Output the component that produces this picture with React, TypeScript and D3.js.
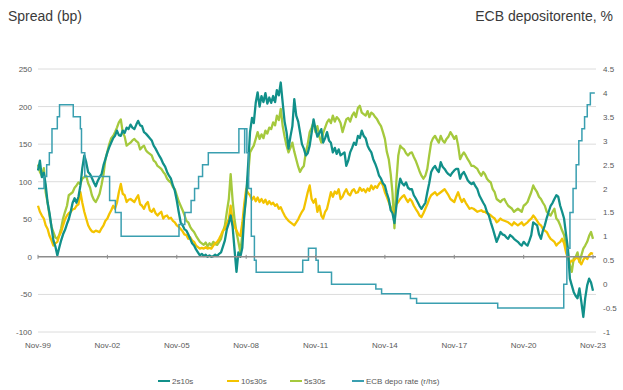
import React from "react";
import * as d3 from "d3";

const W = 623;
const H = 390;

// Monthly observations, Nov 1999 .. Nov 2023 (bp)
const months: Date[] = d3.timeMonth.range(new Date(1999, 10, 1), new Date(2023, 11, 1));

const spread2s10s = [
  115, 128,
  106, 112, 96, 72, 58, 40, 22, 14, 2, 12, 22, 30,
  36, 44, 50, 60, 72, 78, 72, 80, 95, 118, 135, 126,
  113, 110, 105, 99, 94, 101, 106, 110, 122, 130, 139, 146,
  152, 158, 161, 168, 162, 161, 168, 165, 172, 170, 176, 172,
  170, 176, 181, 175, 174, 166, 164, 161, 158, 155, 148, 144,
  139, 134, 130, 124, 120, 113, 108, 104, 95, 88, 75, 60,
  46, 42, 37, 35, 30, 24, 18, 15, 10, 6, 2, 4,
  1, 3, 0, 2, 0, 1, 3, 1, 4, 6, 14, 22,
  37, 45, 55, 40, 10, -20, 6, 0, 12, 55, 80, 121,
  166, 185, 178, 205, 219, 200, 214, 206, 218, 204, 212, 205,
  214, 206, 222, 215, 232, 205, 180, 166, 144, 160, 174, 210,
  188, 180, 166, 150, 144, 135, 138, 148, 165, 183, 170, 160,
  165, 170, 152, 158, 166, 155, 152, 139, 145, 137, 143, 135,
  137, 139, 121, 128, 139, 145, 152, 149, 161, 158, 168, 161,
  158, 148, 143, 139, 130, 124, 117, 108, 104, 98, 95, 85,
  77, 62, 58, 45, 68, 90, 104, 98, 95, 99, 92, 90,
  90, 82, 78, 73, 68, 64, 68, 72, 86, 98, 113, 118,
  121, 116, 113, 126, 120, 117, 113, 110, 108, 112, 115, 117,
  117, 104, 110, 113, 108, 102, 99, 97, 99, 94, 90, 82,
  77, 72, 68, 60, 55, 46, 38, 29, 20, 26, 33, 30,
  29, 26, 24, 29, 27, 24, 22, 20, 17, 15, 20, 17,
  15, 22, 29, 46, 44, 42, 30, 24, 35, 42, 52, 60,
  68, 72, 77, 82, 80, 68, 60, 51, 30, 11, -29, -38,
  -47, -52, -55, -42, -60, -80, -55, -38, -29, -34, -45,
];

const spread10s30s = [
  68, 60,
  55, 51, 42, 37, 28, 22, 15, 18, 20, 28, 33, 42,
  50, 55, 58, 60, 63, 64, 68, 70, 86, 72, 60, 51,
  42, 37, 34, 33, 35, 34, 33, 38, 42, 48, 51, 57,
  62, 68, 64, 72, 86, 97, 84, 82, 73, 76, 77, 75,
  73, 78, 82, 70, 68, 64, 70, 73, 62, 60, 64, 58,
  55, 58, 60, 51, 54, 55, 51, 52, 48, 46, 42, 40,
  37, 34, 30, 29, 24, 26, 22, 20, 15, 13, 11, 12,
  11, 13, 11, 12, 11, 15, 18, 20, 24, 29, 35, 37,
  45, 50, 68, 48, 40, 35, 30, 28, 45, 70, 90, 85,
  82, 76, 80, 74, 79, 73, 77, 72, 76, 70, 74, 70,
  72, 68, 70, 64, 66, 60, 55, 51, 48, 46, 44, 42,
  46, 50, 55, 60, 64, 75, 86, 95, 77, 72, 77, 60,
  68, 55, 51, 60, 64, 75, 86, 80, 87, 84, 90, 77,
  80, 86, 90, 84, 82, 88, 90, 85, 86, 92, 88, 90,
  86, 91, 88, 95, 90, 94, 92, 97, 100, 95, 86, 80,
  73, 66, 60, 55, 70, 73, 77, 80, 82, 77, 73, 77,
  74, 68, 64, 60, 55, 53, 58, 64, 70, 77, 82, 84,
  86, 82, 84, 86, 88, 90, 86, 82, 77, 75, 73, 80,
  86, 78, 73, 77, 72, 68, 64, 65, 64, 62, 60, 61,
  62, 60, 60, 58, 57, 55, 53, 51, 46, 48, 51, 49,
  48, 47, 46, 44, 42, 46, 44, 42, 44, 46, 42, 44,
  46, 49, 51, 55, 52, 48, 44, 42, 37, 35, 33, 28,
  24, 22, 20, 15, 18, 20, 24, 18, 6, -2, -8, -5,
  -5, -2, 0, -6, -10, -4, 0, -3, 2, 5, 4,
];

const spread5s30s = [
  123, 113,
  108, 118, 86, 72, 55, 40, 33, 26, 24, 29, 38, 51,
  60, 68, 82, 84, 86, 92, 95, 99, 97, 104, 106, 108,
  98, 92, 82, 76, 73, 78, 84, 96, 110, 130, 140, 150,
  158, 161, 166, 172, 179, 183, 166, 160, 148, 150, 152, 155,
  157, 154, 152, 143, 146, 148, 142, 139, 137, 135, 128, 126,
  121, 119, 117, 113, 110, 104, 101, 99, 93, 90, 82, 74,
  68, 62, 56, 48, 46, 40, 36, 33, 28, 24, 20, 18,
  16, 19, 14, 18, 15, 20, 17, 16, 20, 24, 34, 42,
  60, 77, 110, 75, 50, 33, 20, 6, 30, 55, 85, 108,
  139, 144, 148, 157, 166, 157, 163, 158, 168, 164, 172, 170,
  179, 175, 188, 182, 197, 174, 160, 148, 139, 145, 152, 140,
  130, 120, 113, 118, 121, 139, 150, 166, 172, 179, 166, 174,
  160, 152, 165, 172, 179, 183, 178, 188, 180, 186, 183, 178,
  166, 175, 183, 185, 180, 188, 192, 186, 198, 201, 192, 190,
  188, 194, 186, 192, 190, 186, 183, 178, 174, 166, 157, 140,
  130, 110, 85, 38, 100, 135, 148, 145, 143, 138, 135, 138,
  139, 133, 128, 121, 114, 108, 104, 108, 117, 135, 152, 158,
  161, 156, 152, 161, 155, 152, 157, 160, 166, 162, 157, 161,
  148, 130, 135, 139, 135, 130, 126, 121, 121, 119, 117, 112,
  108, 113, 110, 104, 101, 99, 90, 86, 77, 75, 73, 76,
  77, 72, 68, 66, 64, 60, 62, 64, 62, 60, 68, 70,
  73, 80, 86, 95, 90, 86, 80, 77, 72, 68, 60, 57,
  55, 60, 64, 51, 48, 42, 35, 29, 15, 6, -11, -20,
  -2, 0, 6, -7, 2, 11, 15, 20, 28, 33, 24,
];

// ECB deposit facility rate (%), effective dates of each change
const ecbDates = [
  "1999-11-01", "2000-02-04", "2000-03-17", "2000-04-28", "2000-06-09", "2000-09-01",
  "2000-10-06", "2001-05-11", "2001-08-31", "2001-09-18", "2001-11-09", "2002-12-06",
  "2003-03-07", "2003-06-06", "2005-12-06", "2006-03-08", "2006-06-15", "2006-08-09",
  "2006-10-11", "2006-12-13", "2007-03-14", "2008-07-09", "2008-10-08", "2008-10-09",
  "2008-11-12", "2008-12-10", "2009-01-21", "2009-03-11", "2009-04-08", "2011-04-13",
  "2011-07-13", "2011-11-09", "2011-12-14", "2012-07-11", "2014-06-11", "2014-09-10",
  "2015-12-09", "2016-03-16", "2019-09-18", "2022-07-27", "2022-09-14", "2022-11-02",
  "2022-12-21", "2023-02-08", "2023-03-22", "2023-05-10", "2023-06-21", "2023-08-02",
  "2023-09-20", "2023-11-30",
];
const ecbRates = [
  2.0, 2.25, 2.5, 2.75, 3.25, 3.5,
  3.75, 3.5, 3.25, 2.75, 2.25, 1.75,
  1.5, 1.0, 1.25, 1.5, 1.75, 2.0,
  2.25, 2.5, 2.75, 3.25, 2.75, 3.25,
  2.75, 2.0, 1.0, 0.5, 0.25, 0.5,
  0.75, 0.5, 0.25, 0.0, -0.1, -0.2,
  -0.3, -0.4, -0.5, 0.0, 0.75, 1.5,
  2.0, 2.5, 3.0, 3.25, 3.5, 3.75,
  4.0, 4.0,
];

const leftTicks = [-100, -50, 0, 50, 100, 150, 200, 250];
const rightTicks = [-1, -0.5, 0, 0.5, 1, 1.5, 2, 2.5, 3, 3.5, 4, 4.5];
const tickYears = [1999, 2002, 2005, 2008, 2011, 2014, 2017, 2020, 2023];

const seriesNames = ["2s10s", "10s30s", "5s30s", "ECB depo rate (r/hs)"];
const seriesColors = ["#11908a", "#f3c300", "#a5c93d", "#3a9fb0"];

const FONT = "'Liberation Sans', Arial, sans-serif";

export default function App() {
  const x = d3
    .scaleTime()
    .domain([new Date(1999, 10, 1), new Date(2023, 10, 1)])
    .range([38, 593]);
  const yL = d3.scaleLinear().domain([-100, 250]).range([332, 69]);
  const yR = d3.scaleLinear().domain([-1, 4.5]).range([332, 69]);

  const parse = d3.timeParse("%Y-%m-%d");
  const fmt = d3.timeFormat("%b-%y");

  const spreadLine = (vals: number[]) =>
    d3
      .line<number>()
      .x((_, i) => x(months[i]))
      .y((v) => yL(v))(vals) || "";

  const ecbPts = ecbDates.map((d, i) => ({ d: parse(d) as Date, v: ecbRates[i] }));
  const ecbPath =
    d3
      .line<{ d: Date; v: number }>()
      .x((p) => x(p.d))
      .y((p) => yR(p.v))
      .curve(d3.curveStepAfter)(ecbPts) || "";

  const x0 = 38;
  const x1 = 596;
  const tickDates = tickYears.map((yr) => new Date(yr, 10, 1));

  const legendX = [158, 227, 290, 352];

  return (
    <svg
      width={W}
      height={H}
      viewBox={`0 0 ${W} ${H}`}
      style={{ position: "absolute", left: 0, top: 0, background: "#fff" }}
      fontFamily={FONT}
    >
      <rect width={W} height={H} fill="#fff" />
      <text x={8} y={21} fontSize={14} fill="#3a3a3a">
        Spread (bp)
      </text>
      <text x={613} y={21} fontSize={14} fill="#3a3a3a" textAnchor="end">
        ECB depositorente, %
      </text>

      {/* horizontal gridlines on the bp axis */}
      {leftTicks
        .filter((t) => t !== 0)
        .map((t) => (
          <line key={t} x1={x0} x2={x1} y1={yL(t)} y2={yL(t)} stroke="#dcdcdc" strokeWidth={1} />
        ))}

      {/* left axis labels */}
      {leftTicks.map((t) => (
        <text key={t} x={32} y={yL(t) + 3} fontSize={8} fill="#595959" textAnchor="end">
          {t}
        </text>
      ))}
      {/* right axis labels */}
      {rightTicks.map((t) => (
        <text key={t} x={603} y={yR(t) + 3} fontSize={8} fill="#595959">
          {t}
        </text>
      ))}
      {/* date labels */}
      {tickDates.map((d) => (
        <text key={d.getTime()} x={x(d)} y={348} fontSize={8} fill="#595959" textAnchor="middle">
          {fmt(d)}
        </text>
      ))}

      {/* series */}
      <path d={spreadLine(spread5s30s)} fill="none" stroke={seriesColors[2]} strokeWidth={2.3} strokeLinejoin="round" />
      <path d={spreadLine(spread10s30s)} fill="none" stroke={seriesColors[1]} strokeWidth={2.3} strokeLinejoin="round" />
      <path d={spreadLine(spread2s10s)} fill="none" stroke={seriesColors[0]} strokeWidth={2.3} strokeLinejoin="round" />
      <path d={ecbPath} fill="none" stroke={seriesColors[3]} strokeWidth={1.5} />

      {/* zero line with date ticks */}
      <line x1={x0} x2={x1} y1={yL(0)} y2={yL(0)} stroke="#8c8c8c" strokeWidth={1.5} />
      {tickDates.map((d) => (
        <line key={d.getTime()} x1={x(d)} x2={x(d)} y1={yL(0) - 2} y2={yL(0) + 2} stroke="#8c8c8c" strokeWidth={1} />
      ))}

      {/* legend */}
      {seriesNames.map((n, i) => (
        <g key={n}>
          <line x1={legendX[i]} x2={legendX[i] + 12} y1={381} y2={381} stroke={seriesColors[i]} strokeWidth={2} />
          <text x={legendX[i] + 14} y={384} fontSize={8} fill="#595959">
            {n}
          </text>
        </g>
      ))}
    </svg>
  );
}
